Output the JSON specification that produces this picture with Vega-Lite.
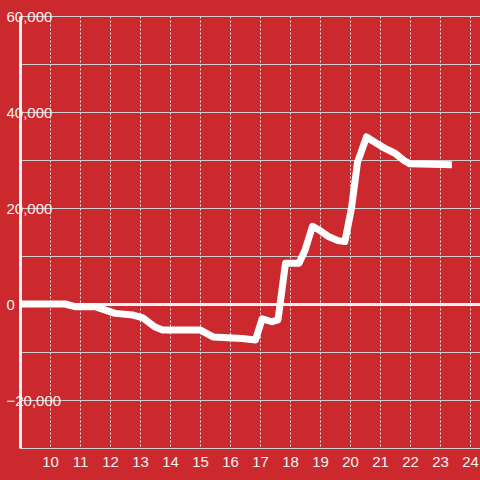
{
  "$schema": "https://vega.github.io/schema/vega-lite/v6.json",
  "autosize": "none",
  "width": 460,
  "height": 432,
  "padding": {"left": 20, "top": 16, "right": 0, "bottom": 32},
  "background": "#cc292e",
  "config": {
    "view": {"stroke": null},
    "font": "Liberation Sans"
  },
  "data": {
    "values": [
      {"hour": 9.0, "value": 0},
      {"hour": 10.5, "value": 0},
      {"hour": 10.83, "value": -550},
      {"hour": 11.5, "value": -550},
      {"hour": 12.17, "value": -1950},
      {"hour": 12.77, "value": -2300},
      {"hour": 13.1, "value": -2900},
      {"hour": 13.5, "value": -4800},
      {"hour": 13.75, "value": -5400},
      {"hour": 15.0, "value": -5400},
      {"hour": 15.45, "value": -6900},
      {"hour": 16.4, "value": -7200},
      {"hour": 16.85, "value": -7500},
      {"hour": 17.07, "value": -3100},
      {"hour": 17.4, "value": -3700},
      {"hour": 17.6, "value": -3300},
      {"hour": 17.85, "value": 8500},
      {"hour": 18.3, "value": 8500},
      {"hour": 18.5, "value": 11200},
      {"hour": 18.75, "value": 16200},
      {"hour": 19.0, "value": 15300},
      {"hour": 19.3, "value": 14000},
      {"hour": 19.6, "value": 13200},
      {"hour": 19.83, "value": 13000},
      {"hour": 20.05, "value": 20000},
      {"hour": 20.25, "value": 29500},
      {"hour": 20.55, "value": 34800},
      {"hour": 20.8, "value": 33800},
      {"hour": 21.2, "value": 32300},
      {"hour": 21.5, "value": 31400},
      {"hour": 21.8, "value": 29900},
      {"hour": 22.0, "value": 29200},
      {"hour": 23.4, "value": 29000}
    ]
  },
  "mark": {"type": "line", "color": "#ffffff", "strokeWidth": 7, "strokeJoin": "round", "clip": true},
  "encoding": {
    "x": {
      "field": "hour",
      "type": "quantitative",
      "scale": {"domain": [9, 24.3333], "nice": false, "zero": false},
      "axis": {
        "title": null,
        "values": [10, 11, 12, 13, 14, 15, 16, 17, 18, 19, 20, 21, 22, 23, 24],
        "domain": false,
        "ticks": false,
        "labelPadding": 6,
        "labelFontSize": 15,
        "labelColor": "#f2f2f2",
        "labelFlush": false,
        "grid": true,
        "gridColor": "#e6e6e6",
        "gridDash": [2, 2],
        "gridWidth": 1,
        "gridOpacity": 1
      }
    },
    "y": {
      "field": "value",
      "type": "quantitative",
      "scale": {"domain": [-30000, 60000], "nice": false},
      "axis": {
        "title": null,
        "values": [-30000, -20000, -10000, 0, 10000, 20000, 30000, 40000, 50000, 60000],
        "labelExpr": "datum.value % 20000 === 0 ? datum.label : ''",
        "domain": true,
        "domainColor": "#f2f2f2",
        "domainWidth": 3,
        "ticks": false,
        "tickSize": 0,
        "labelAlign": "left",
        "labelBaseline": "middle",
        "labelPadding": 14,
        "labelFontSize": 15,
        "labelColor": "#f2f2f2",
        "labelFlush": false,
        "grid": true,
        "gridColor": {"condition": {"test": "datum.value === 0", "value": "#f2f2f2"}, "value": "#cfcfcf"},
        "gridWidth": {"condition": {"test": "datum.value === 0", "value": 3}, "value": 1},
        "gridOpacity": 1
      }
    }
  }
}
